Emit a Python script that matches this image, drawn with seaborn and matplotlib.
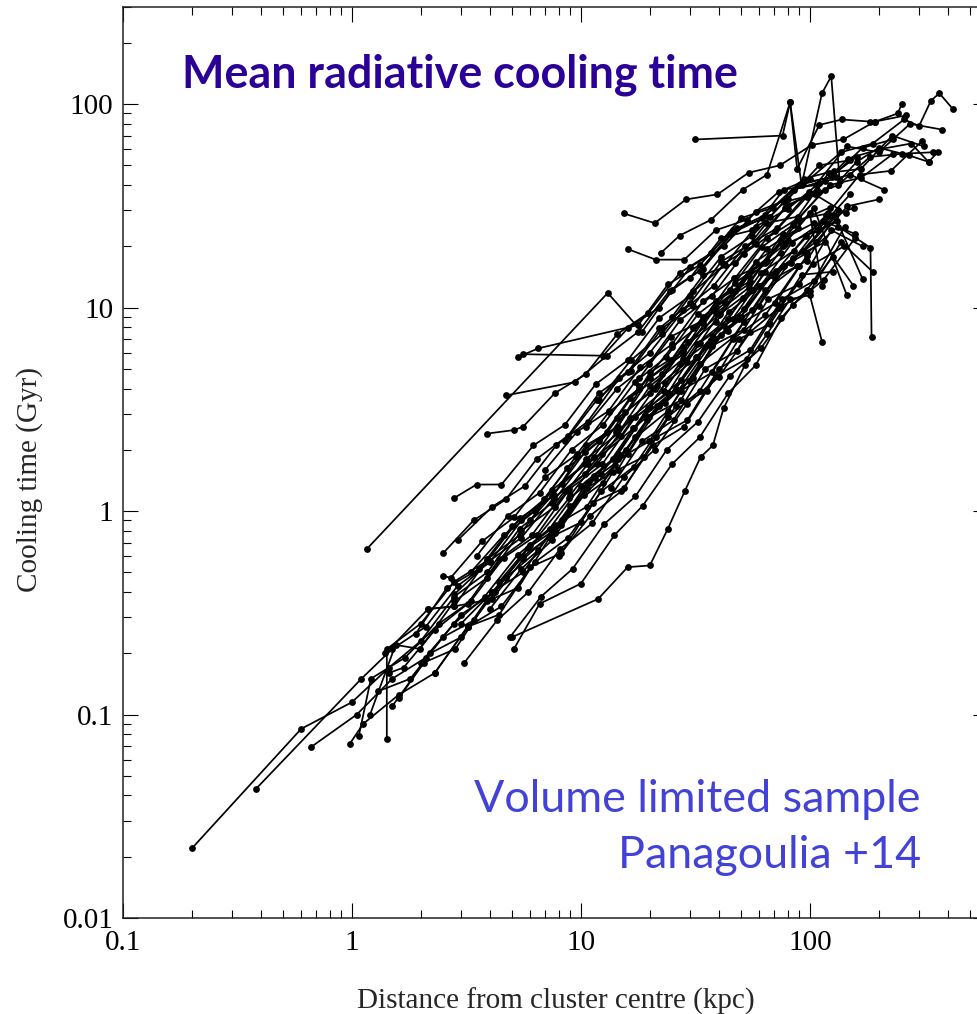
#!/usr/bin/env python3
"""Mean radiative cooling time profiles (volume limited sample, Panagoulia+14)."""

import matplotlib
matplotlib.use("Agg")
import matplotlib.pyplot as plt
import pandas as pd
import seaborn as sns
from matplotlib.ticker import LogLocator, NullFormatter

sns.set_style("ticks")
plt.rcParams["font.family"] = ["Liberation Serif", "DejaVu Serif"]

# -----------------------------------------------------------------------------
# Cooling time profiles: radius (kpc) and cooling time (Gyr), one pair per cluster
# -----------------------------------------------------------------------------
r_a = [0.2, 0.6, 1.0, 1.45, 2.0, 2.8, 3.9, 5.4, 7.5, 10.5, 14.5, 20, 28, 39, 54]
t_a = [0.022, 0.085, 0.115, 0.17, 0.23, 0.38, 0.5, 0.82, 1.1, 1.8, 2.4, 4.1, 5.6, 9.4, 12.5]
r_b = [0.38, 1.1, 1.5, 2.1, 2.9, 4.0, 5.5, 7.6, 10.5, 14.5, 20, 28, 39, 55, 76]
t_b = [0.043, 0.15, 0.21, 0.27, 0.43, 0.56, 0.9, 1.2, 2.1, 2.6, 4.8, 6.1, 10.8, 13.5, 23]
r_c = [0.66, 1.05, 1.5, 2.1, 3.0, 4.2, 5.9, 8.2, 11.5, 16, 22, 31, 43, 60, 84, 117]
t_c = [0.069, 0.1, 0.15, 0.19, 0.31, 0.4, 0.66, 0.85, 1.45, 1.9, 3.3, 4.5, 7.9, 10.2, 17.5, 21]
r_d = [0.98, 1.12, 1.6, 2.3, 3.2, 4.5, 6.3, 8.8, 12.3, 17, 24, 33, 46, 64, 90]
t_d = [0.072, 0.09, 0.125, 0.16, 0.27, 0.34, 0.56, 0.74, 1.25, 1.65, 2.9, 3.9, 7.0, 9.2, 16]
r_e = [1.42, 1.42, 2.0, 2.8, 3.9, 5.4, 7.5, 10.4, 14.5, 20, 28, 39, 54, 75, 104]
t_e = [0.076, 0.21, 0.28, 0.45, 0.57, 0.92, 1.18, 1.95, 2.6, 4.5, 5.9, 10.1, 13, 21.5, 26]
r_f = [1.16, 13.1, 18.5, 25, 34, 48, 67, 93, 130]
t_f = [0.65, 11.8, 7.6, 12.2, 15.5, 24.5, 28, 41, 44]
r_g = [1.07, 1.21, 1.7, 2.4, 3.3, 4.6, 6.4, 8.9, 12.4, 17.3, 24, 33, 46, 64]
t_g = [0.078, 0.15, 0.19, 0.28, 0.36, 0.59, 0.76, 1.28, 1.7, 2.9, 3.8, 6.7, 8.8, 15]
r_h = [1.2, 1.55, 1.98, 2.8, 3.9, 5.5, 7.7, 10.7, 15, 21, 29, 40, 56, 78, 108, 150]
t_h = [0.1, 0.22, 0.21, 0.36, 0.47, 0.8, 1.05, 1.7, 2.35, 4.0, 5.4, 9.2, 12.2, 20.5, 24, 36]
r_i = [1.45, 1.68, 2.3, 3.2, 4.4, 6.1, 8.5, 11.8, 16.4, 23, 32, 44, 61, 85, 118]
t_i = [0.16, 0.17, 0.26, 0.35, 0.58, 0.76, 1.26, 1.7, 2.85, 3.9, 6.6, 8.8, 14.8, 19, 28.5]
r_j = [1.4, 2.15, 2.8, 3.9, 5.4, 7.5, 10.4, 14.4, 20, 28, 39, 54, 75]
t_j = [0.2, 0.33, 0.34, 0.58, 0.76, 1.27, 1.7, 2.85, 3.8, 6.4, 8.5, 14.3, 18.5]
r_k = [1.3, 1.8, 2.5, 3.4, 4.7, 6.5, 9, 12.5, 17.3, 24, 33, 46, 64, 88]
t_k = [0.13, 0.15, 0.24, 0.29, 0.47, 0.64, 1.06, 1.38, 2.3, 3.1, 5.3, 7.1, 12.2, 16]
r_l = [2.5, 3.4, 4.7, 6.4, 8.8, 12, 16.5, 22.6, 31, 42, 58, 80, 110]
t_l = [0.62, 0.9, 1.14, 1.8, 2.35, 3.8, 4.9, 7.9, 10.2, 16.4, 20.5, 32, 37]
r_m = [2.8, 3.5, 4.5, 6.2, 8.5, 11.6, 16, 22, 30, 41, 56, 77, 105, 144]
t_m = [1.16, 1.35, 1.35, 2.1, 2.65, 4.2, 5.5, 8.9, 11.4, 17.8, 22.5, 33, 36, 29]
r_n = [3.87, 5.1, 5.6, 7.7, 10.5, 14.4, 19.7, 27, 37, 50, 69, 94, 128]
t_n = [2.4, 2.5, 2.6, 3.8, 4.7, 7.4, 9.4, 14.8, 18.5, 27.5, 31, 43, 47]
r_o = [4.7, 9.4, 13, 17.8, 24.4, 33, 45, 62, 85, 116, 160]
t_o = [3.7, 4.3, 5.8, 7.6, 12.1, 15.2, 23, 27.5, 38, 42, 55]
r_p = [5.6, 12.5, 16, 22, 30, 42, 58, 80, 110, 150]
t_p = [5.9, 5.8, 7.9, 10, 15.8, 20, 29.5, 34, 50, 53]
r_q = [5.3, 6.5, 17.8, 24, 33, 46, 64, 90, 125, 170, 230]
t_q = [5.7, 6.3, 8.2, 13, 16.2, 24, 28.5, 40, 44, 61, 67]
r_r = [2.9, 4.1, 5.7, 7.8, 10.7, 14.7, 20, 28, 38, 52, 72, 99]
t_r = [0.72, 1.05, 1.33, 2.1, 2.75, 4.5, 6.0, 9.7, 12.8, 20, 24.5, 37]
r_s = [2.5, 2.7, 3.7, 5.1, 7.0, 9.6, 13.2, 18, 25, 34, 47, 65, 89, 122]
t_s = [0.48, 0.47, 0.71, 0.93, 1.47, 1.9, 3.05, 4.0, 6.4, 8.4, 13.2, 17, 26.5, 31]
r_t = [2.8, 4.0, 5.5, 7.6, 10.4, 14.3, 19.6, 27, 37, 51, 70, 96, 132]
t_t = [0.39, 0.57, 0.74, 1.16, 1.52, 2.45, 3.2, 5.3, 6.9, 11.1, 14.7, 22.5, 26.5]
r_u = [3.1, 4.3, 5.9, 8.1, 11.2, 15.4, 21, 29, 40, 55, 75, 103, 141]
t_u = [0.18, 0.29, 0.4, 0.65, 0.87, 1.47, 2.0, 3.35, 4.55, 7.6, 10.2, 16.3, 20]
r_v = [4.9, 6.7, 9.2, 12.6, 17.3, 23.7, 32.5, 44.6, 61, 84, 115, 158]
t_v = [0.24, 0.38, 0.52, 0.86, 1.18, 2.0, 2.75, 4.6, 6.3, 10.3, 13.7, 22]
r_w = [5.0, 11.9, 16, 20, 24, 28.4, 33.3, 37.7, 42, 52, 65, 82, 100, 113]
t_w = [0.24, 0.37, 0.53, 0.54, 0.82, 1.25, 1.84, 2.1, 3.2, 5.2, 7.4, 11, 11.5, 6.8]
r_x = [5.1, 6.6, 10, 14, 18.6, 25, 33, 44, 58, 75, 97, 126, 155]
t_x = [0.21, 0.35, 0.44, 0.76, 1.06, 1.7, 2.3, 3.8, 5.2, 8.9, 12.2, 17.8, 12.8]
r_y = [2.15, 2.8, 4.1, 5.6, 7.7, 10.6, 14.5, 20, 27.4, 37.6, 51.6, 70.8, 97, 133, 184, 186]
t_y = [0.33, 0.34, 0.37, 0.58, 0.8, 1.37, 1.9, 3.25, 4.4, 7.2, 9.8, 15.2, 18.5, 25, 19.7, 7.2]
r_z = [4.0, 5.5, 7.5, 10.3, 14.1, 19.4, 26.6, 36.5, 50, 68.7, 94, 129, 170]
t_z = [0.33, 0.52, 0.72, 1.2, 1.68, 2.8, 3.9, 6.5, 9.0, 14.6, 19, 28, 13.8]
r_aa = [15.4, 21, 28.8, 39.5, 54, 74, 102, 140, 192, 263]
t_aa = [29, 26, 34, 36, 46, 50, 63, 67, 82, 88]
r_ab = [16, 21.2, 28.3, 38.8, 53, 73, 100, 137, 188, 258, 300, 338, 368, 420]
t_ab = [19.4, 17.2, 17.2, 24, 27, 37, 43, 58, 64, 84, 78, 104, 113, 95]
r_ac = [22.3, 27, 37, 51, 65, 82, 88, 110, 138, 184, 193, 242, 252]
t_ac = [18.5, 22.6, 27, 38, 45, 102, 48, 79, 84, 82, 82, 90, 100]
r_ad = [31.6, 76, 82, 92, 113, 124, 135, 160, 200, 270, 330, 362]
t_ad = [67, 70, 102, 40, 113, 137, 42, 52, 61, 56, 52, 58]
r_af = [8.5, 11.7, 16, 22, 30, 41, 57, 78, 107, 147, 202, 277, 330]
t_af = [2.2, 3.5, 4.8, 7.9, 10.5, 16.8, 21, 31, 38, 54, 60, 64, 52]
r_ag = [12, 16.5, 22.6, 31, 42.6, 58, 80, 110, 150, 210]
t_ag = [3.5, 5.5, 7.4, 12, 16.2, 25, 30.5, 41, 45, 38]
r_ah = [3.3, 4.6, 6.3, 8.7, 12, 16.4, 22.5, 31, 42.5, 58, 80, 100, 113]
t_ah = [0.5, 0.76, 1.0, 1.62, 2.2, 3.6, 4.7, 7.9, 10.5, 16.8, 21.5, 29, 12.8]
r_ai = [6.0, 8.3, 11.4, 15.6, 21.4, 29.4, 40.4, 55.5, 76, 104, 145]
t_ai = [0.9, 1.36, 1.85, 3.05, 4.1, 6.8, 9.3, 15.2, 20, 31, 11.5]
r_aj = [1.9, 2.6, 3.6, 5.0, 6.9, 9.5, 13, 18, 24.8, 34, 47, 65, 89]
t_aj = [0.25, 0.42, 0.52, 0.84, 1.14, 1.85, 2.45, 4.1, 5.5, 9.0, 12, 19.5, 24.5]
r_ak = [2.0, 2.8, 3.8, 5.3, 7.3, 10, 13.8, 19, 26, 36, 49, 68, 93, 128]
t_ak = [0.18, 0.28, 0.38, 0.61, 0.82, 1.33, 1.8, 2.95, 4.0, 6.6, 8.8, 14.5, 19, 28.5]
r_al = [3.5, 4.8, 6.6, 9.1, 12.5, 17.2, 23.6, 32.5, 44.7, 61.5, 84.5, 116]
t_al = [0.6, 0.95, 1.23, 2.0, 2.65, 4.3, 5.7, 9.3, 12.2, 19.8, 25.5, 38]
r_am = [4.4, 6.0, 8.3, 11.4, 15.7, 21.6, 29.7, 40.8, 56, 77, 106, 146, 200]
t_am = [0.45, 0.68, 0.9, 1.48, 2.0, 3.3, 4.35, 7.3, 9.7, 16, 21, 31.5, 34]
r_an = [6.5, 8.9, 12.3, 16.9, 23.2, 31.9, 43.8, 60.2, 82.8, 114, 156]
t_an = [0.75, 1.16, 1.52, 2.55, 3.4, 5.7, 7.7, 12.7, 16.6, 26.5, 31]
r_ao = [7.0, 9.6, 13.2, 18.2, 25, 34.3, 47.2, 65, 89, 122, 168, 231]
t_ao = [1.6, 2.45, 3.1, 5.1, 6.6, 10.8, 14, 22, 27.5, 40, 43.5, 57]
r_ap = [9, 12.4, 17, 23.4, 32.1, 44.2, 60.7, 83.5, 115, 158]
t_ap = [1.2, 1.9, 2.55, 4.25, 5.7, 9.5, 12.7, 20.8, 26.5, 23]
r_aq = [10.5, 14.4, 19.8, 27.2, 37.4, 51.4, 70.7, 97, 133, 183, 252, 346]
t_aq = [2.6, 4.0, 5.3, 8.7, 11.4, 18.4, 23.7, 35, 40, 55, 57, 58]
r_ar = [1.6, 2.2, 3.0, 4.1, 5.6, 7.7, 10.6, 14.5, 19.9, 27.3, 37.5, 51.5, 70.7, 97]
t_ar = [0.12, 0.2, 0.24, 0.4, 0.5, 0.85, 1.05, 1.8, 2.2, 3.9, 4.8, 8.5, 10.5, 18]
r_as = [2.3, 3.2, 4.4, 6.0, 8.2, 11.3, 15.5, 21.3, 29.2, 40, 55, 75.5, 104, 142]
t_as = [0.16, 0.27, 0.31, 0.53, 0.62, 1.1, 1.3, 2.3, 2.8, 5.0, 6.2, 11, 13.5, 25]
r_at = [3.0, 4.1, 5.6, 7.7, 10.6, 14.5, 19.9, 27.3, 37.5, 51.5, 70.7, 97, 133]
t_at = [0.28, 0.4, 0.6, 0.78, 1.3, 1.6, 2.9, 3.5, 6.5, 7.8, 14, 17, 30]
r_au = [8, 11, 15, 20.6, 28.3, 38.8, 53, 73, 100, 137, 188]
t_au = [0.6, 0.95, 1.25, 2.1, 2.6, 4.6, 5.6, 10, 12, 21, 15]
r_av = [13.5, 18.5, 25.4, 34.9, 47.9, 65.7, 90, 124, 170]
t_av = [1.3, 2.2, 2.8, 5.0, 6.1, 11, 13, 24, 20]
r_aw = [18, 24.7, 33.9, 46.5, 63.8, 87.6, 120, 165, 226, 310]
t_aw = [4.5, 7.2, 8.6, 14, 16.5, 27, 29, 45, 47, 66]
r_ax = [25, 34.3, 47, 64.6, 88.6, 121, 167, 229, 314]
t_ax = [9, 14.5, 16.5, 26, 28, 46, 48, 70, 62]
r_ay = [1.5, 2.06, 2.83, 3.88, 5.33, 7.3, 10, 13.8, 18.9, 26, 35.6, 48.9, 67, 92, 126]
t_ay = [0.11, 0.18, 0.21, 0.36, 0.42, 0.74, 0.88, 1.55, 1.85, 3.3, 3.9, 7.0, 8.3, 14.5, 15]
r_az = [30, 41, 56, 77, 106, 145, 200, 274, 376]
t_az = [14, 22, 24, 38, 40, 62, 58, 80, 75]

profiles = [
    (r_a, t_a), (r_b, t_b), (r_c, t_c), (r_d, t_d), (r_e, t_e), (r_f, t_f),
    (r_g, t_g), (r_h, t_h), (r_i, t_i), (r_j, t_j), (r_k, t_k), (r_l, t_l),
    (r_m, t_m), (r_n, t_n), (r_o, t_o), (r_p, t_p), (r_q, t_q), (r_r, t_r),
    (r_s, t_s), (r_t, t_t), (r_u, t_u), (r_v, t_v), (r_w, t_w), (r_x, t_x),
    (r_y, t_y), (r_z, t_z), (r_aa, t_aa), (r_ab, t_ab), (r_ac, t_ac),
    (r_ad, t_ad), (r_af, t_af), (r_ag, t_ag), (r_ah, t_ah), (r_ai, t_ai),
    (r_aj, t_aj), (r_ak, t_ak), (r_al, t_al), (r_am, t_am), (r_an, t_an),
    (r_ao, t_ao), (r_ap, t_ap), (r_aq, t_aq), (r_ar, t_ar), (r_as, t_as),
    (r_at, t_at), (r_au, t_au), (r_av, t_av), (r_aw, t_aw), (r_ax, t_ax),
    (r_ay, t_ay), (r_az, t_az),
]

x_ticks = [0.1, 1, 10, 100]
x_labels = ["0.1", "1", "10", "100"]
y_ticks = [0.01, 0.1, 1, 10, 100]
y_labels = ["0.01", "0.1", "1", "10", "100"]

# long-form table for seaborn
rows = []
for k, (rr, tt) in enumerate(profiles):
    for r, t in zip(rr, tt):
        rows.append({"cluster": k, "r": r, "t": t})
df = pd.DataFrame(rows)

# =============================================================================
# Plot
# =============================================================================
W, H = 978, 1014
fig = plt.figure(figsize=(W / 100, H / 100), dpi=100)
# axes frame in pixels: left 123, right 988 (runs off the picture), top 7, bottom 918
ax = fig.add_axes([123 / W, (H - 918) / H, 865 / W, 911 / H])

sns.lineplot(
    data=df, x="r", y="t", units="cluster", estimator=None, sort=False,
    color="black", lw=1.25, marker="o", markersize=4.9, markeredgewidth=0,
    legend=False, ax=ax,
)

ax.set_xscale("log")
ax.set_yscale("log")
ax.set_xlim(0.1, 600)
ax.set_ylim(0.01, 300)

ax.set_xticks(x_ticks, labels=x_labels)
ax.set_yticks(y_ticks, labels=y_labels)
ax.xaxis.set_minor_locator(LogLocator(base=10, subs=range(2, 10), numticks=20))
ax.yaxis.set_minor_locator(LogLocator(base=10, subs=range(2, 10), numticks=20))
ax.xaxis.set_minor_formatter(NullFormatter())
ax.yaxis.set_minor_formatter(NullFormatter())

ax.tick_params(which="both", direction="in", top=True, right=True, width=0.8, colors="black")
ax.tick_params(which="major", length=10.8, labelsize=21)
ax.tick_params(which="minor", length=5.8)
ax.tick_params(axis="x", which="major", pad=9)
ax.tick_params(axis="y", which="major", pad=7)
for sp in ax.spines.values():
    sp.set_linewidth(1.1)
    sp.set_color("#222222")

ax.set_xlabel("Distance from cluster centre (kpc)", fontsize=21)
ax.set_ylabel("Cooling time (Gyr)", fontsize=21)
ax.xaxis.set_label_coords(0.5, -0.076)
ax.yaxis.set_label_coords(-0.0925, 0.481)

# slide annotations
fig.text(182 / W, 1 - 88 / H, "Mean radiative cooling time", family=["Lato", "DejaVu Sans"],
         fontweight="bold", fontsize=32.3, color="#2B0096", ha="left", va="baseline")
fig.text(921 / W, 1 - 812 / H, "Volume limited sample", family=["Lato", "DejaVu Sans"],
         fontsize=32.3, color="#4242D6", ha="right", va="baseline")
fig.text(921 / W, 1 - 868 / H, "Panagoulia +14", family=["Lato", "DejaVu Sans"],
         fontsize=32.3, color="#4242D6", ha="right", va="baseline")

fig.savefig("out.png", dpi=100, facecolor="white")
plt.close(fig)
print("saved out.png")
